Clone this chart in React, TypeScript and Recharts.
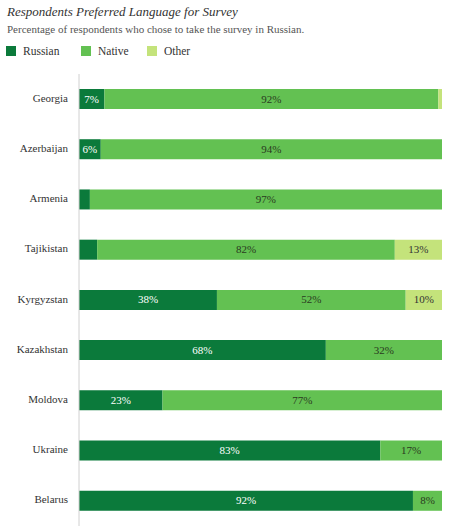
import React from "react";
import { BarChart, Bar, XAxis, YAxis, LabelList } from "recharts";

const countries = ["Georgia", "Azerbaijan", "Armenia", "Tajikistan", "Kyrgyzstan", "Kazakhstan", "Moldova", "Ukraine", "Belarus"];
const russian = [7, 6, 3, 5, 38, 68, 23, 83, 92];
const native = [92, 94, 97, 82, 52, 32, 77, 17, 8];
const other = [1, 0, 0, 13, 10, 0, 0, 0, 0];

const seriesNames = ["Russian", "Native", "Other"];
const seriesColors = ["#0b7a3b", "#63c152", "#c4e37b"];
const labelColors = ["#ffffff", "#2a3a20", "#333333"];

const data = countries.map((c, i) => ({ country: c, russian: russian[i], native: native[i], other: other[i] }));

const FONT = "'Liberation Serif', 'DejaVu Serif', serif";

const makeLabel = (color: string) => (props: any) => {
  const { x, y, width, height, value } = props;
  if (value == null || value < 6) return null;
  return (
    <text
      x={x + width / 2}
      y={y + height / 2 + 1}
      textAnchor="middle"
      dominantBaseline="middle"
      fill={color}
      fontSize={11}
      fontFamily={FONT}
    >
      {value}%
    </text>
  );
};

const CategoryTick = (props: any) => {
  const { x, y, payload } = props;
  return (
    <text x={x - 3} y={y} textAnchor="end" dominantBaseline="middle" fill="#333" fontSize={11} fontFamily={FONT}>
      {payload.value}
    </text>
  );
};

export default function App() {
  const keys = ["russian", "native", "other"];
  return (
    <div style={{ position: "absolute", left: 0, top: 0, width: 463, height: 527, background: "#fff", fontFamily: FONT, overflow: "hidden" }}>
      <div style={{ position: "absolute", left: 7, top: 4, fontSize: 13, fontStyle: "italic", color: "#333" }}>
        Respondents Preferred Language for Survey
      </div>
      <div style={{ position: "absolute", left: 7, top: 23, fontSize: 11, color: "#555" }}>
        Percentage of respondents who chose to take the survey in Russian.
      </div>
      {seriesNames.map((n, i) => (
        <div key={n} style={{ position: "absolute", left: [6, 81, 147][i], top: 45, display: "flex", alignItems: "center" }}>
          <div style={{ width: 10, height: 10, background: seriesColors[i], marginRight: 7 }} />
          <span style={{ fontSize: 11.5, color: "#333" }}>{n}</span>
        </div>
      ))}
      <div style={{ position: "absolute", left: 0, top: 0 }}>
        <BarChart
          width={463}
          height={527}
          data={data}
          layout="vertical"
          margin={{ top: 74, right: 21, bottom: 1, left: 0 }}
          barCategoryGap={15}
        >
          <XAxis type="number" domain={[0, 100]} hide />
          <YAxis
            type="category"
            dataKey="country"
            width={79}
            axisLine={{ stroke: "#d0d0d0" }}
            tickLine={false}
            tick={<CategoryTick />}
          />
          {keys.map((k, i) => (
            <Bar key={k} dataKey={k} stackId="a" fill={seriesColors[i]} barSize={20} isAnimationActive={false}>
              <LabelList dataKey={k} content={makeLabel(labelColors[i])} />
            </Bar>
          ))}
        </BarChart>
      </div>
    </div>
  );
}
